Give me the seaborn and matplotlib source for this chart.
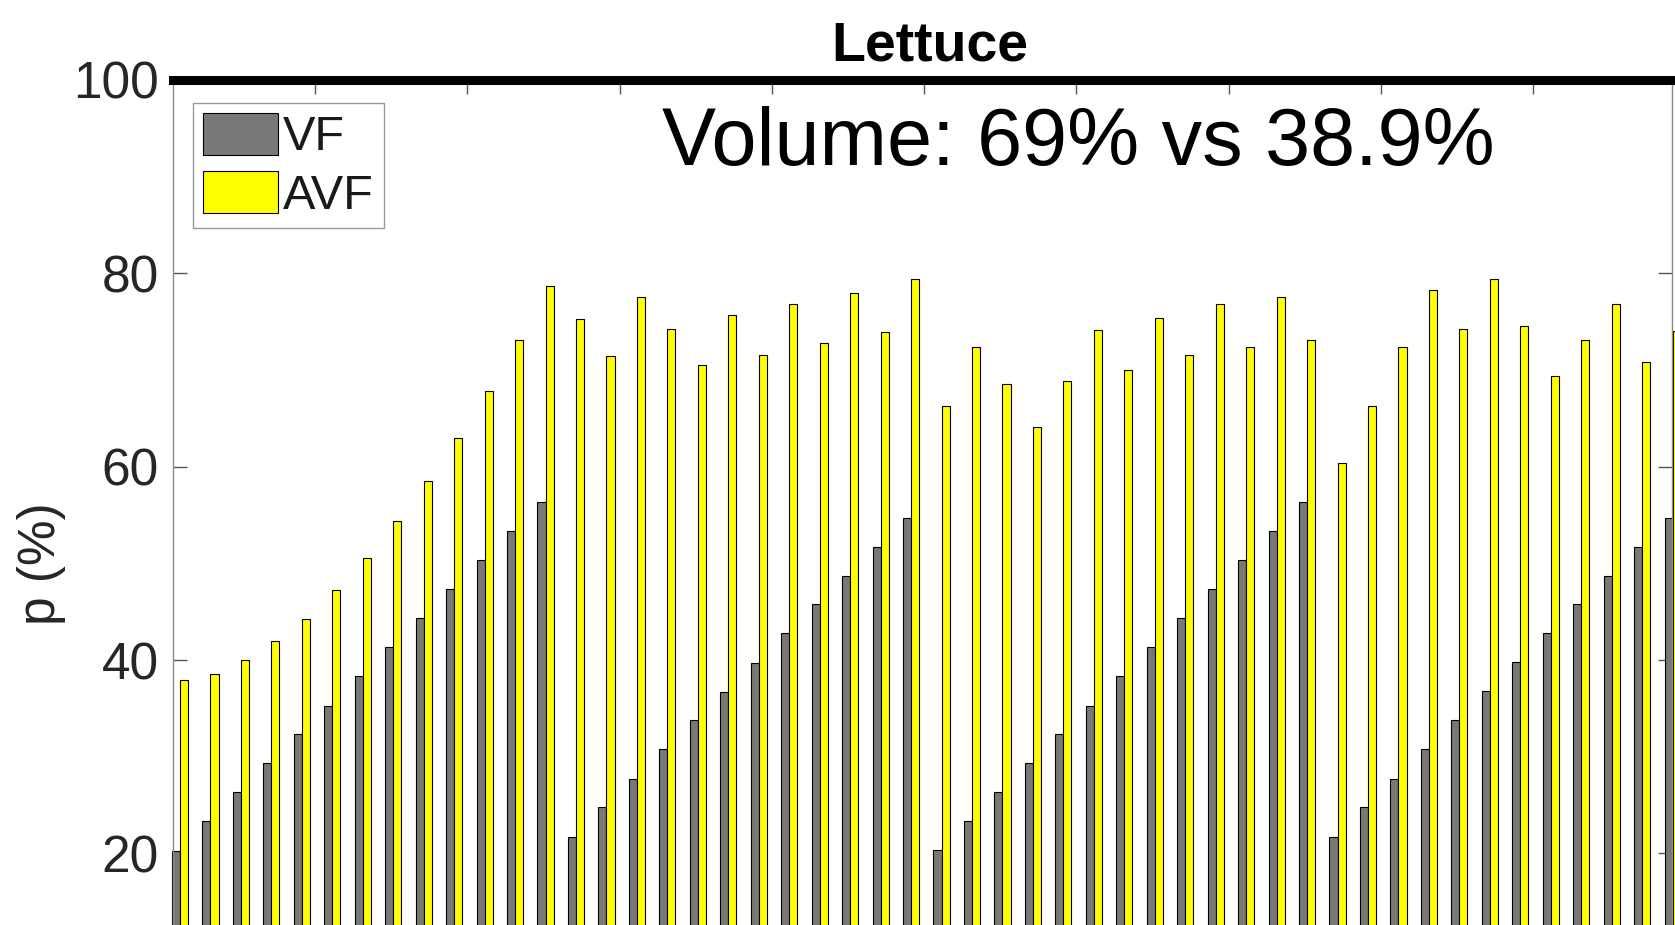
import numpy as np
import pandas as pd
import seaborn as sns
from matplotlib import pyplot as plt

# values (p in %), one bar pair per sample
samples = list(range(1, 51))
vf = [20.2, 23.3, 26.3, 29.3, 32.3, 35.2, 38.3, 41.3, 44.3, 47.3, 50.3, 53.3, 56.3,
      21.7, 24.8, 27.7, 30.8, 33.8, 36.7, 39.7, 42.8, 45.8, 48.7, 51.7, 54.7,
      20.3, 23.3, 26.3, 29.3, 32.3, 35.2, 38.3, 41.3, 44.3, 47.3, 50.3, 53.3, 56.3,
      21.7, 24.8, 27.7, 30.8, 33.8, 36.8, 39.8, 42.8, 45.8, 48.7, 51.7, 54.7]
avf = [37.9, 38.6, 40.0, 42.0, 44.2, 47.2, 50.6, 54.4, 58.5, 63.0, 67.8, 73.1, 78.7,
       75.3, 71.5, 77.6, 74.2, 70.5, 75.7, 71.6, 76.8, 72.8, 78.0, 73.9, 79.4,
       66.3, 72.4, 68.6, 64.1, 68.9, 74.1, 70.0, 75.4, 71.6, 76.8, 72.4, 77.6, 73.1,
       60.4, 66.3, 72.4, 78.3, 74.2, 79.4, 74.6, 69.4, 73.1, 76.8, 70.8, 74.0]
groups = ["VF", "AVF"]
colors = {"VF": "#787876", "AVF": "#ffff00"}
title = "Lettuce"
note = "Volume: 69% vs 38.9%"

df = pd.DataFrame({"sample": samples * 2,
                   "p": vf + avf,
                   "group": ["VF"] * len(vf) + ["AVF"] * len(avf)})

sns.set_style("ticks")
plt.rcParams["font.family"] = ["Liberation Sans", "DejaVu Sans"]

W, H = 1675, 925
fig = plt.figure(figsize=(W / 100, H / 100), dpi=100)
# axes run past the bottom of the figure (reference is cropped there)
top_px, px_per_unit = 80, 9.667
h_px = 100 * px_per_unit
ax = fig.add_axes([173 / W, 1 - (top_px + h_px) / H, 1499 / W, h_px / H])

sns.barplot(data=df, x="sample", y="p", hue="group", hue_order=groups,
            palette=colors, saturation=1, width=0.53, gap=0,
            edgecolor="black", linewidth=0.8, ax=ax)
for cont in ax.containers:
    for bar in cont:
        bar.set_clip_on(False)

ax.set_ylim(0, 100)
ax.set_xlim(-0.23, 48.98)
ax.set_yticks([20, 40, 60, 80, 100])
ax.set_xticks(np.arange(4.43, 49, 5))
ax.set_xticklabels([])
ax.tick_params(axis="both", direction="in", length=10, width=1,
               color="#555555", top=True, right=True, labelsize=37,
               labelcolor="#262626", pad=10)
ax.set_xlabel("")
ax.set_ylabel("p (%)", fontsize=37, color="#262626")
ax.yaxis.set_label_coords(-0.0714, 0.5)

for side in ["left", "right", "bottom"]:
    ax.spines[side].set_color("#8a8a8a")
    ax.spines[side].set_linewidth(1)
ax.spines["top"].set_color("black")
ax.spines["top"].set_linewidth(6.5)

ax.set_title(title, fontsize=40, fontweight="bold", color="black",
             pad=14, x=0.505)
fig.text(662 / W, 1 - 165 / H, note, fontsize=58.3, color="black",
         ha="left", va="baseline")

h, l = ax.get_legend_handles_labels()
leg = ax.legend(h, l, loc="upper left", bbox_to_anchor=(193 / W, 1 - 103 / H),
                bbox_transform=fig.transFigure, borderaxespad=0,
                fancybox=False, framealpha=1, edgecolor="#999999",
                fontsize=35, handlelength=1.55, handleheight=0.95,
                handletextpad=0.1, labelspacing=0.22, borderpad=0.2)
leg.get_frame().set_linewidth(1)
for t in leg.get_texts():
    t.set_color("#1a1a1a")

fig.savefig("out.png", dpi=100)
